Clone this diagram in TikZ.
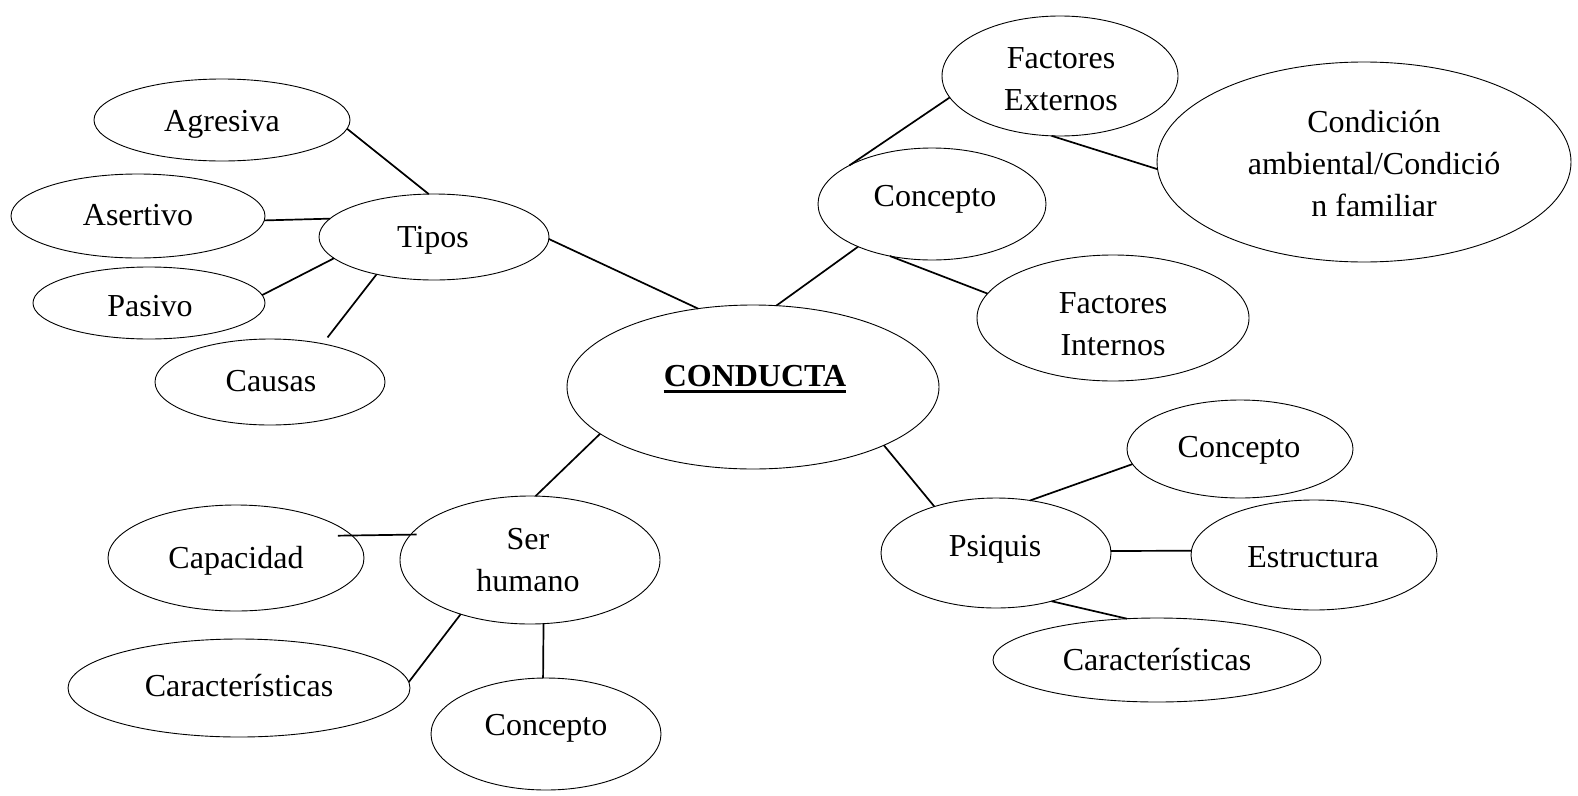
\documentclass[tikz,border=0pt]{standalone}
\usepackage{fontspec}
\setmainfont{Liberation Serif}
\usetikzlibrary{shapes.geometric}
\tikzset{
  oval/.style={ellipse, draw, line width=0.9pt, inner sep=0pt, outer sep=0pt},
  txt/.style={anchor=base, inner sep=0pt, font=\fontsize{32}{42}\selectfont},
  link/.style={line width=1.7pt},
}
\begin{document}
\begin{tikzpicture}[x=1pt,y=-1pt]
\useasboundingbox (0,0) rectangle (1578,795);
% ellipses
\node[oval, minimum width=256pt, minimum height=82pt]  (agr)  at (222,120) {};
\node[oval, minimum width=254pt, minimum height=84pt]  (ase)  at (138,216) {};
\node[oval, minimum width=232pt, minimum height=72pt]  (pas)  at (149,303) {};
\node[oval, minimum width=230pt, minimum height=86pt]  (cau)  at (270,382) {};
\node[oval, minimum width=230pt, minimum height=86pt]  (tip)  at (434,237) {};
\node[oval, minimum width=372pt, minimum height=164pt] (con)  at (753,387) {};
\node[oval, minimum width=228pt, minimum height=112pt] (cpta) at (932,204) {};
\node[oval, minimum width=236pt, minimum height=120pt] (fe)   at (1060,76) {};
\node[oval, minimum width=414pt, minimum height=200pt] (cond) at (1364,162) {};
\node[oval, minimum width=272pt, minimum height=126pt] (fi)   at (1113,318) {};
\node[oval, minimum width=226pt, minimum height=98pt]  (cptb) at (1240,449) {};
\node[oval, minimum width=230pt, minimum height=110pt] (psi)  at (996,553) {};
\node[oval, minimum width=246pt, minimum height=110pt] (est)  at (1314,555) {};
\node[oval, minimum width=328pt, minimum height=84pt]  (carb) at (1157,660) {};
\node[oval, minimum width=260pt, minimum height=128pt] (ser)  at (530,560) {};
\node[oval, minimum width=256pt, minimum height=106pt] (cap)  at (236,558) {};
\node[oval, minimum width=342pt, minimum height=98pt]  (cara) at (239,688) {};
\node[oval, minimum width=230pt, minimum height=112pt] (cptc) at (546,734) {};
% texts
\node[txt] (tagr) at (222,131) {Agresiva};
\node[txt] (tase) at (138,225) {Asertivo};
\node[txt] (tpas) at (150,316) {Pasivo};
\node[txt] (tcau) at (271,391) {Causas};
\node[txt] (ttip) at (433,247) {Tipos};
\node[txt] (tcon) at (755,386) {\bfseries CONDUCTA};
\draw[line width=3pt] ([yshift=-5.5pt]tcon.base west) -- ([yshift=-5.5pt]tcon.base east);
\node[txt] (tcpta) at (935,206) {Concepto};
\node[txt] (tfe1) at (1061,68) {Factores};
\node[txt] (tfe2) at (1061,110) {Externos};
\node[txt] (tcond1) at (1374,132) {Condición};
\node[txt] (tcond2) at (1374,174) {ambiental/Condició};
\node[txt] (tcond3) at (1374,216) {n familiar};
\node[txt] (tfi1) at (1113,313) {Factores};
\node[txt] (tfi2) at (1113,355) {Internos};
\node[txt] (tcptb) at (1239,457) {Concepto};
\node[txt] (tpsi) at (995,556) {Psiquis};
\node[txt] (test) at (1313,567) {Estructura};
\node[txt] (tcarb) at (1157,670) {Características};
\node[txt] (tser1) at (528,549) {Ser};
\node[txt] (tser2) at (528,591) {humano};
\node[txt] (tcap) at (236,568) {Capacidad};
\node[txt] (tcara) at (239,696) {Características};
\node[txt] (tcptc) at (546,735) {Concepto};
% connectors
\draw[link] (agr.-4) -- (tip.97);
\draw[link] (ase.-2) -- (tip.170);
\draw[link] (pas.4) -- (tip.192);
\draw[link, shorten <=8pt] (cau.36) -- (tip.213);
\draw[link] (tip.-1) -- (con.125);
\draw[link] (con.74) -- (cpta.210);
\draw[link] (cpta.155) -- (fe.191);
\draw[link] (fe.262) -- (cond.182);
\draw[link] (cpta.231) -- (fi.169);
\draw[link] (con.-24) -- (psi.143);
\draw[link] (psi.57) -- (cptb.188);
\draw[link] (psi.1) -- (est.178);
\draw[link] (psi.-41) -- (carb.126);
\draw[link] (con.197) -- (ser.85);
\draw[link, shorten <=-6pt, shorten >=-14pt] (ser.168) -- (cap.11);
\draw[link] (ser.218) -- (cara.2);
\draw[link] (ser.-78) -- (cptc.93);
\end{tikzpicture}
\end{document}
